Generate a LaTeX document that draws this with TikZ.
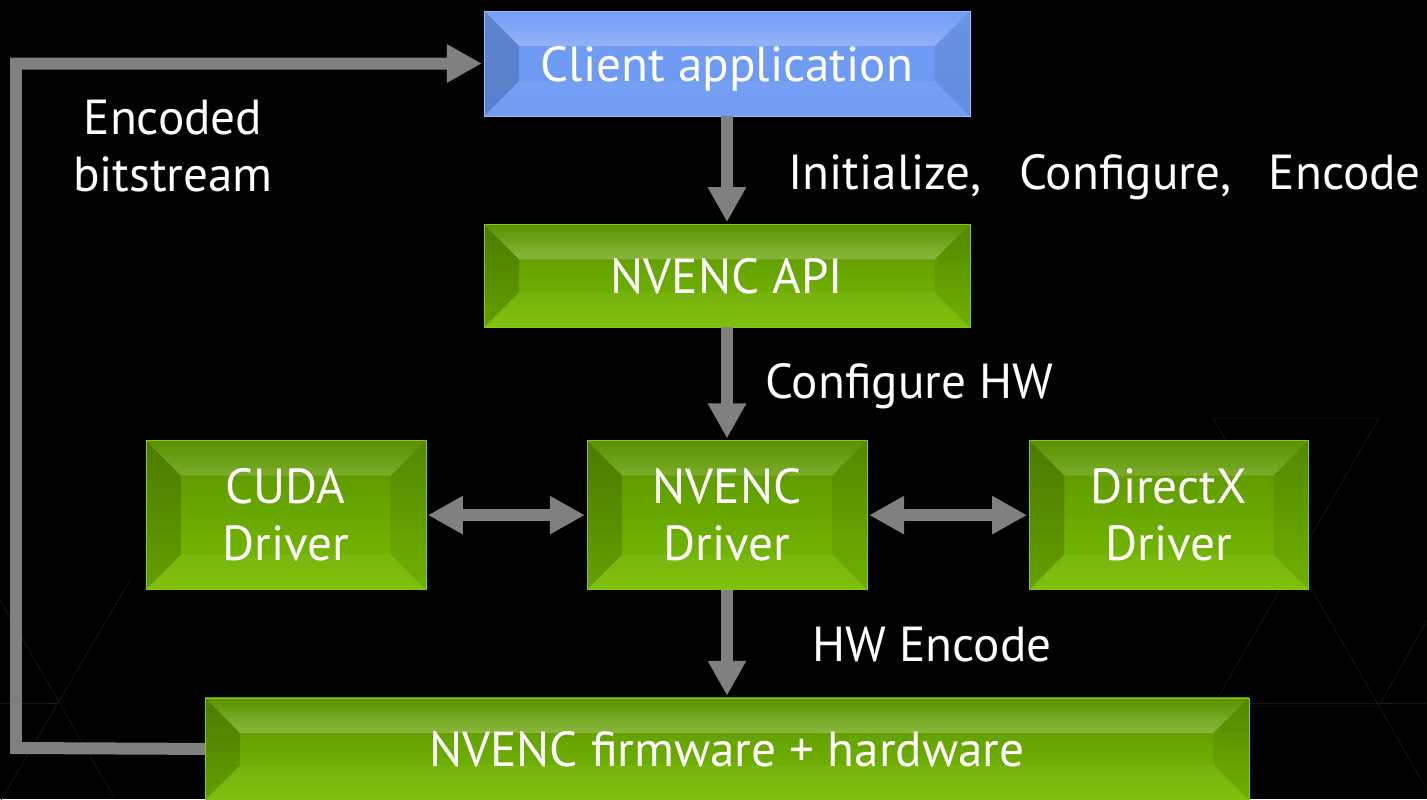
\documentclass[tikz,border=0pt]{standalone}
\usepackage{fontspec}
\setmainfont{PT Sans}
\usetikzlibrary{positioning}
\usetikzlibrary{arrows.meta}
\usetikzlibrary{fadings}

\definecolor{nvgreen}{RGB}{120,190,0}
\definecolor{nvgreendark}{RGB}{90,146,0}
\definecolor{nvgreenedge}{RGB}{135,200,30}
\definecolor{appblue}{RGB}{108,152,242}
\definecolor{appbluedark}{RGB}{114,158,246}
\definecolor{appblueedge}{RGB}{150,190,255}
\definecolor{flowgray}{RGB}{128,128,128}
\definecolor{bgline}{RGB}{24,24,24}

\newcommand{\boxfont}{\fontsize{28}{32.5}\selectfont}

\tikzset{
  bevel/.style={path picture={
    \fill[white,opacity=.7,path fading=north] (path picture bounding box.north west) -- ++(0.7cm,-0.7cm) -- ([shift={(-0.7cm,-0.7cm)}]path picture bounding box.north east) -- (path picture bounding box.north east) -- cycle;
    \fill[black,opacity=.16] (path picture bounding box.north west) -- ++(0.7cm,-0.7cm) -- ([shift={(0.7cm,0.7cm)}]path picture bounding box.south west) -- (path picture bounding box.south west) -- cycle;
    \fill[black,opacity=.07] (path picture bounding box.north east) -- ++(-0.7cm,-0.7cm) -- ([shift={(-0.7cm,0.7cm)}]path picture bounding box.south east) -- (path picture bounding box.south east) -- cycle;
    \fill[white,opacity=.05] (path picture bounding box.south west) -- ++(0.7cm,0.7cm) -- ([shift={(-0.7cm,0.7cm)}]path picture bounding box.south east) -- (path picture bounding box.south east) -- cycle;
  }},
  box/.style={rectangle, bevel, text=white, font=\boxfont, align=center, inner sep=0pt},
  greenbox/.style={box, top color=nvgreendark, bottom color=nvgreen, draw=nvgreenedge, very thin},
  bluebox/.style={box, top color=appbluedark, bottom color=appblue, draw=appblueedge, very thin},
  flow/.style={draw=flowgray, line width=0.24cm, line join=miter, -{Triangle[width=0.72cm,length=0.7cm]}, shorten >=0.04cm},
  twoway/.style={flow, {Triangle[width=0.72cm,length=0.7cm]}-{Triangle[width=0.72cm,length=0.7cm]}, shorten <=0.04cm},
  note/.style={text=white, font=\boxfont, align=center, inner sep=0pt},
}

\begin{document}
\begin{tikzpicture}[x=0.02cm,y=-0.02cm]
\useasboundingbox (0,0) rectangle (1427,799);
\fill[black] (0,0) rectangle (1427,799);
% faint background triangles
\draw[bgline,thin] (1213,418) -- (1379,418) -- (1213,706) -- (1379,706) -- cycle;
\draw[bgline,thin] (1250,703) -- (1427,703);
\draw[bgline,thin] (1379,706) -- (1427,620);
\draw[bgline,thin] (1379,706) -- (1427,790);
\draw[bgline,thin] (0,703) -- (58,703);
\draw[bgline,thin] (130,580) -- (0,802);
\draw[bgline,thin] (0,600) -- (115,799);

\node[bluebox, minimum width=9.72cm, minimum height=2.1cm, text depth=0pt] (client) at (727,63.5) {Client application};
\node[greenbox, minimum width=9.72cm, minimum height=2.06cm, below=2.16cm of client] (api) {NVENC API};
\node[greenbox, minimum width=5.6cm, minimum height=2.98cm, below=2.26cm of api] (nvdrv) {NVENC\\Driver};
\node[greenbox, minimum width=5.6cm, minimum height=2.98cm, left=3.22cm of nvdrv] (cuda) {CUDA\\Driver};
\node[greenbox, minimum width=5.58cm, minimum height=2.98cm, right=3.24cm of nvdrv] (dx) {DirectX\\Driver};
\node[greenbox, minimum width=20.88cm, minimum height=2.04cm, below=2.16cm of nvdrv] (fw) {NVENC firmware + hardware};

\draw[flow] (client) -- (api);
\draw[flow] (api) -- (nvdrv);
\draw[flow] (nvdrv) -- (fw);
\draw[twoway] (cuda) -- (nvdrv);
\draw[twoway] (nvdrv) -- (dx);

\coordinate (loop) at (16,748);
\draw[flow] (fw.west) -- (loop) |- (client.west);

\node[note] (encoded) at (173,146) {Encoded\\bitstream};
\node[note, anchor=west] (init) at (788,177) {Initialize,\hspace{0.75cm}Configure,\hspace{0.75cm}Encode};
\node[note, anchor=west] (cfghw) at (765,386) {Configure HW};
\node[note, anchor=west] (hwenc) at (812,645) {HW Encode};
\end{tikzpicture}
\end{document}
